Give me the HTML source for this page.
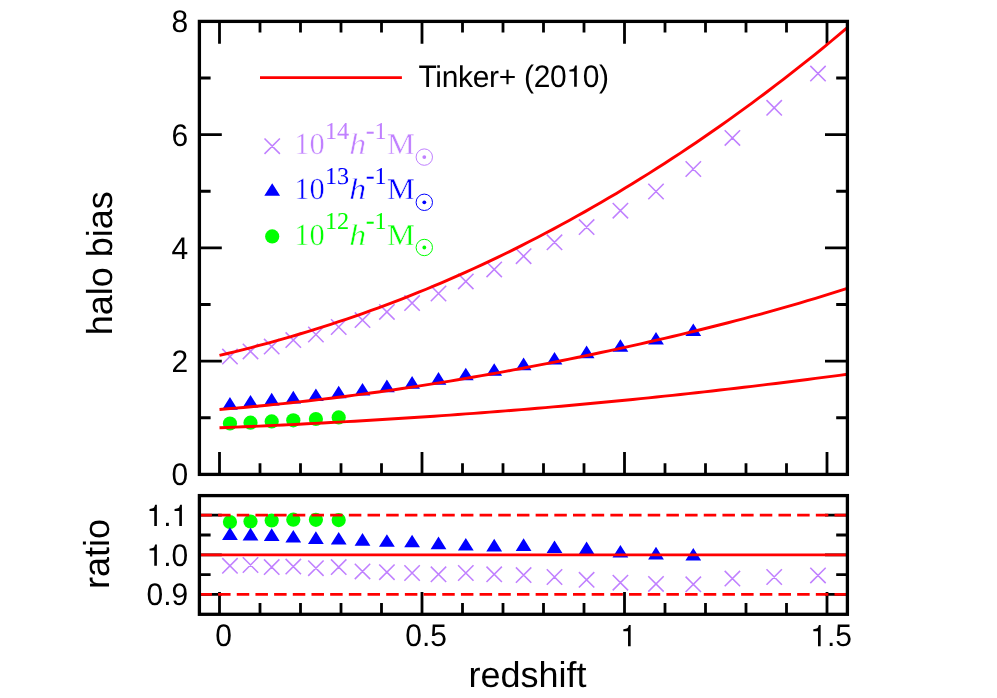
<!DOCTYPE html>
<html><head><meta charset="utf-8"><title>halo bias</title>
<style>html,body{margin:0;padding:0;background:#fff;}svg{display:block;will-change:transform;}text{text-rendering:geometricPrecision;}</style></head>
<body>
<svg width="997" height="698" viewBox="0 0 997 698">
<rect x="0" y="0" width="997" height="698" fill="#ffffff"/>
<path d="M219.50 474.4v-22.4M219.50 21.4v22.4M219.50 614.3v-22.4M260.00 474.4v-11.2M260.00 21.4v11.2M260.00 614.3v-11.2M300.50 474.4v-11.2M300.50 21.4v11.2M300.50 614.3v-11.2M341.00 474.4v-11.2M341.00 21.4v11.2M341.00 614.3v-11.2M381.50 474.4v-11.2M381.50 21.4v11.2M381.50 614.3v-11.2M422.00 474.4v-22.4M422.00 21.4v22.4M422.00 614.3v-22.4M462.50 474.4v-11.2M462.50 21.4v11.2M462.50 614.3v-11.2M503.00 474.4v-11.2M503.00 21.4v11.2M503.00 614.3v-11.2M543.50 474.4v-11.2M543.50 21.4v11.2M543.50 614.3v-11.2M584.00 474.4v-11.2M584.00 21.4v11.2M584.00 614.3v-11.2M624.50 474.4v-22.4M624.50 21.4v22.4M624.50 614.3v-22.4M665.00 474.4v-11.2M665.00 21.4v11.2M665.00 614.3v-11.2M705.50 474.4v-11.2M705.50 21.4v11.2M705.50 614.3v-11.2M746.00 474.4v-11.2M746.00 21.4v11.2M746.00 614.3v-11.2M786.50 474.4v-11.2M786.50 21.4v11.2M786.50 614.3v-11.2M827.00 474.4v-22.4M827.00 21.4v22.4M827.00 614.3v-22.4M199.4 417.77h11.2M847.4 417.77h-11.2M199.4 361.15h22.4M847.4 361.15h-22.4M199.4 304.52h11.2M847.4 304.52h-11.2M199.4 247.90h22.4M847.4 247.90h-22.4M199.4 191.27h11.2M847.4 191.27h-11.2M199.4 134.65h22.4M847.4 134.65h-22.4M199.4 78.02h11.2M847.4 78.02h-11.2M199.4 594.40h22.4M847.4 594.40h-22.4M199.4 574.60h11.2M847.4 574.60h-11.2M199.4 554.80h22.4M847.4 554.80h-22.4M199.4 535.00h11.2M847.4 535.00h-11.2M199.4 515.20h22.4M847.4 515.20h-22.4" stroke="#000" stroke-width="2.8" fill="none"/>
<path d="M222.25 348.90L237.65 364.30M222.25 364.30L237.65 348.90M242.80 343.70L258.20 359.10M242.80 359.10L258.20 343.70M264.00 338.90L279.40 354.30M264.00 354.30L279.40 338.90M285.60 332.40L301.00 347.80M285.60 347.80L301.00 332.40M308.20 326.80L323.60 342.20M308.20 342.20L323.60 326.80M331.00 319.30L346.40 334.70M331.00 334.70L346.40 319.30M354.80 312.40L370.20 327.80M354.80 327.80L370.20 312.40M379.20 304.20L394.60 319.60M379.20 319.60L394.60 304.20M404.40 295.40L419.80 310.80M404.40 310.80L419.80 295.40M430.80 285.80L446.20 301.20M430.80 301.20L446.20 285.80M458.10 273.70L473.50 289.10M458.10 289.10L473.50 273.70M486.50 261.70L501.90 277.10M486.50 277.10L501.90 261.70M515.90 248.50L531.30 263.90M515.90 263.90L531.30 248.50M546.80 234.60L562.20 250.00M546.80 250.00L562.20 234.60M578.90 219.40L594.30 234.80M578.90 234.80L594.30 219.40M612.70 203.00L628.10 218.40M612.70 218.40L628.10 203.00M648.30 183.80L663.70 199.20M648.30 199.20L663.70 183.80M685.60 161.30L701.00 176.70M685.60 176.70L701.00 161.30M724.70 130.20L740.10 145.60M724.70 145.60L740.10 130.20M766.50 100.10L781.90 115.50M766.50 115.50L781.90 100.10M810.30 65.90L825.70 81.30M810.30 81.30L825.70 65.90M222.25 558.10L237.65 573.50M222.25 573.50L237.65 558.10M242.80 557.30L258.20 572.70M242.80 572.70L258.20 557.30M264.00 559.40L279.40 574.80M264.00 574.80L279.40 559.40M285.60 558.90L301.00 574.30M285.60 574.30L301.00 558.90M308.20 560.50L323.60 575.90M308.20 575.90L323.60 560.50M331.00 559.40L346.40 574.80M331.00 574.80L346.40 559.40M354.80 563.70L370.20 579.10M354.80 579.10L370.20 563.70M379.20 564.50L394.60 579.90M379.20 579.90L394.60 564.50M404.40 565.30L419.80 580.70M404.40 580.70L419.80 565.30M430.80 566.60L446.20 582.00M430.80 582.00L446.20 566.60M458.10 565.30L473.50 580.70M458.10 580.70L473.50 565.30M486.50 566.60L501.90 582.00M486.50 582.00L501.90 566.60M515.90 567.40L531.30 582.80M515.90 582.80L531.30 567.40M546.80 569.30L562.20 584.70M546.80 584.70L562.20 569.30M578.90 572.10L594.30 587.50M578.90 587.50L594.30 572.10M612.70 575.00L628.10 590.40M612.70 590.40L628.10 575.00M648.30 576.20L663.70 591.60M648.30 591.60L663.70 576.20M685.60 576.60L701.00 592.00M685.60 592.00L701.00 576.60M724.70 570.90L740.10 586.30M724.70 586.30L740.10 570.90M766.50 569.30L781.90 584.70M766.50 584.70L781.90 569.30M810.30 567.70L825.70 583.10M810.30 583.10L825.70 567.70M264.50 138.50L279.90 153.90M264.50 153.90L279.90 138.50" stroke="#c080ff" stroke-width="1.55" fill="none"/>
<g fill="#00ff00"><circle cx="229.95" cy="423.50" r="7.1"/><circle cx="250.50" cy="422.70" r="7.1"/><circle cx="271.70" cy="421.40" r="7.1"/><circle cx="293.30" cy="420.30" r="7.1"/><circle cx="315.90" cy="419.00" r="7.1"/><circle cx="338.70" cy="417.45" r="7.1"/><circle cx="229.95" cy="522.00" r="7.1"/><circle cx="250.50" cy="521.50" r="7.1"/><circle cx="271.70" cy="520.50" r="7.1"/><circle cx="293.30" cy="519.65" r="7.1"/><circle cx="315.90" cy="519.80" r="7.1"/><circle cx="338.70" cy="520.10" r="7.1"/><circle cx="272.20" cy="236.40" r="7.1"/></g>
<path d="M229.95 397.12L222.05 409.68L237.85 409.68ZM250.50 394.92L242.60 407.48L258.40 407.48ZM271.70 392.82L263.80 405.38L279.60 405.38ZM293.30 390.82L285.40 403.38L301.20 403.38ZM315.90 388.52L308.00 401.07L323.80 401.07ZM338.70 385.67L330.80 398.23L346.60 398.23ZM362.50 382.92L354.60 395.48L370.40 395.48ZM386.90 379.62L379.00 392.18L394.80 392.18ZM412.10 376.12L404.20 388.68L420.00 388.68ZM438.50 372.12L430.60 384.68L446.40 384.68ZM465.80 367.72L457.90 380.27L473.70 380.27ZM494.20 363.22L486.30 375.77L502.10 375.77ZM523.60 357.62L515.70 370.18L531.50 370.18ZM554.50 352.02L546.60 364.57L562.40 364.57ZM586.60 345.62L578.70 358.18L594.50 358.18ZM620.40 339.22L612.50 351.77L628.30 351.77ZM656.00 332.02L648.10 344.57L663.90 344.57ZM693.30 323.52L685.40 336.07L701.20 336.07ZM229.95 527.32L222.05 539.88L237.85 539.88ZM250.50 527.82L242.60 540.38L258.40 540.38ZM271.70 528.32L263.80 540.88L279.60 540.88ZM293.30 530.02L285.40 542.58L301.20 542.58ZM315.90 531.32L308.00 543.88L323.80 543.88ZM338.70 532.02L330.80 544.58L346.60 544.58ZM362.50 533.12L354.60 545.67L370.40 545.67ZM386.90 534.22L379.00 546.77L394.80 546.77ZM412.10 534.72L404.20 547.27L420.00 547.27ZM438.50 536.62L430.60 549.17L446.40 549.17ZM465.80 537.92L457.90 550.48L473.70 550.48ZM494.20 538.82L486.30 551.38L502.10 551.38ZM523.60 538.32L515.70 550.88L531.50 550.88ZM554.50 540.42L546.60 552.98L562.40 552.98ZM586.60 541.62L578.70 554.17L594.50 554.17ZM620.40 544.92L612.50 557.48L628.30 557.48ZM656.00 546.82L648.10 559.38L663.90 559.38ZM693.30 548.02L685.40 560.58L701.20 560.58ZM272.20 183.22L264.30 195.78L280.10 195.78Z" fill="#0000ff"/>
<polyline points="219.50,355.40 227.45,353.52 235.39,351.58 243.34,349.59 251.28,347.55 259.23,345.47 267.18,343.33 275.12,341.14 283.07,338.90 291.02,336.61 298.96,334.26 306.91,331.86 314.85,329.41 322.80,326.90 330.75,324.34 338.69,321.73 346.64,319.06 354.59,316.33 362.53,313.55 370.48,310.71 378.42,307.81 386.37,304.86 394.32,301.85 402.26,298.78 410.21,295.66 418.16,292.47 426.10,289.23 434.05,285.92 441.99,282.56 449.94,279.14 457.89,275.66 465.83,272.11 473.78,268.51 481.72,264.85 489.67,261.12 497.62,257.34 505.56,253.49 513.51,249.58 521.46,245.61 529.40,241.58 537.35,237.49 545.29,233.33 553.24,229.12 561.19,224.84 569.13,220.49 577.08,216.09 585.03,211.62 592.97,207.09 600.92,202.50 608.86,197.84 616.81,193.13 624.76,188.34 632.70,183.50 640.65,178.59 648.59,173.62 656.54,168.58 664.49,163.48 672.43,158.32 680.38,153.09 688.33,147.80 696.27,142.44 704.22,137.02 712.16,131.53 720.11,125.98 728.06,120.36 736.00,114.67 743.95,108.92 751.90,103.10 759.84,97.21 767.79,91.25 775.73,85.22 783.68,79.12 791.63,72.96 799.57,66.71 807.52,60.40 815.47,54.01 823.41,47.54 831.36,41.00 839.30,34.38 847.25,27.68" stroke="#ff0000" stroke-width="2.9" fill="none" stroke-linejoin="round"/>
<polyline points="219.50,409.47 227.45,408.82 235.39,408.16 243.34,407.46 251.28,406.74 259.23,406.00 267.18,405.23 275.12,404.43 283.07,403.62 291.02,402.77 298.96,401.91 306.91,401.02 314.85,400.10 322.80,399.17 330.75,398.20 338.69,397.22 346.64,396.21 354.59,395.18 362.53,394.13 370.48,393.05 378.42,391.95 386.37,390.83 394.32,389.69 402.26,388.52 410.21,387.33 418.16,386.12 426.10,384.89 434.05,383.63 441.99,382.36 449.94,381.06 457.89,379.75 465.83,378.41 473.78,377.05 481.72,375.67 489.67,374.27 497.62,372.84 505.56,371.40 513.51,369.94 521.46,368.46 529.40,366.95 537.35,365.43 545.29,363.89 553.24,362.33 561.19,360.74 569.13,359.14 577.08,357.52 585.03,355.88 592.97,354.22 600.92,352.53 608.86,350.83 616.81,349.11 624.76,347.37 632.70,345.61 640.65,343.82 648.59,342.02 656.54,340.19 664.49,338.34 672.43,336.48 680.38,334.58 688.33,332.67 696.27,330.73 704.22,328.77 712.16,326.78 720.11,324.77 728.06,322.73 736.00,320.67 743.95,318.58 751.90,316.45 759.84,314.30 767.79,312.12 775.73,309.91 783.68,307.66 791.63,305.37 799.57,303.05 807.52,300.70 815.47,298.30 823.41,295.86 831.36,293.38 839.30,290.85 847.25,288.27" stroke="#ff0000" stroke-width="2.9" fill="none" stroke-linejoin="round"/>
<polyline points="219.50,427.81 227.45,427.49 235.39,427.16 243.34,426.82 251.28,426.47 259.23,426.11 267.18,425.75 275.12,425.38 283.07,425.00 291.02,424.61 298.96,424.22 306.91,423.81 314.85,423.40 322.80,422.98 330.75,422.55 338.69,422.12 346.64,421.67 354.59,421.22 362.53,420.76 370.48,420.28 378.42,419.80 386.37,419.31 394.32,418.82 402.26,418.31 410.21,417.79 418.16,417.27 426.10,416.73 434.05,416.19 441.99,415.64 449.94,415.08 457.89,414.50 465.83,413.92 473.78,413.33 481.72,412.73 489.67,412.12 497.62,411.50 505.56,410.87 513.51,410.24 521.46,409.59 529.40,408.93 537.35,408.26 545.29,407.58 553.24,406.89 561.19,406.19 569.13,405.48 577.08,404.76 585.03,404.03 592.97,403.29 600.92,402.54 608.86,401.78 616.81,401.01 624.76,400.23 632.70,399.44 640.65,398.64 648.59,397.83 656.54,397.00 664.49,396.17 672.43,395.33 680.38,394.48 688.33,393.61 696.27,392.74 704.22,391.85 712.16,390.96 720.11,390.06 728.06,389.14 736.00,388.22 743.95,387.28 751.90,386.34 759.84,385.38 767.79,384.42 775.73,383.44 783.68,382.46 791.63,381.47 799.57,380.47 807.52,379.45 815.47,378.43 823.41,377.40 831.36,376.37 839.30,375.32 847.25,374.26" stroke="#ff0000" stroke-width="2.9" fill="none" stroke-linejoin="round"/>
<path d="M199.4 554.80H847.4" stroke="#ff0000" stroke-width="2.75"/>
<path d="M199.4 515.20H847.4M199.4 594.40H847.4" stroke="#ff0000" stroke-width="2.75" stroke-dasharray="12.5 6.18"/>
<path d="M260 77.7H401.9" stroke="#ff0000" stroke-width="2.75"/>
<rect x="199.4" y="21.4" width="648.00" height="453.00" fill="none" stroke="#000" stroke-width="3.3"/>
<rect x="199.4" y="495.6" width="648.00" height="118.70" fill="none" stroke="#000" stroke-width="3.3"/>
<g font-family="Liberation Sans, sans-serif" fill="#000">
<text transform="matrix(1 0 0 1.04 0 -19.412)" x="171.51" y="485.30" font-size="30">0</text>
<text transform="matrix(1 0 0 1.04 0 -14.882)" x="171.51" y="372.05" font-size="30">2</text>
<text transform="matrix(1 0 0 1.04 0 -10.352)" x="171.51" y="258.80" font-size="30">4</text>
<text transform="matrix(1 0 0 1.04 0 -5.822)" x="171.51" y="145.55" font-size="30">6</text>
<text transform="matrix(1 0 0 1.04 0 -1.292)" x="171.51" y="32.30" font-size="30">8</text>
<text transform="matrix(1 0 0 1.04 0 -24.212)" x="146.48 171.51" y="605.30" font-size="30">09</text><text x="163.17" y="605.30" font-size="30">.</text>
<text transform="matrix(1 0 0 1.04 0 -22.628)" x="171.51" y="565.70" font-size="30">0</text><text x="163.17" y="565.70" font-size="30">.</text><path d="M154.25 565.70L154.25 550.55L149.54 550.55L149.54 548.66C153.62 548.15 154.19 547.70 155.12 544.43L156.89 544.43L156.89 565.70Z"/>
<text x="163.17" y="526.10" font-size="30">.</text><path d="M154.25 526.10L154.25 510.95L149.54 510.95L149.54 509.06C153.62 508.55 154.19 508.10 155.12 504.83L156.89 504.83L156.89 526.10ZM179.28 526.10L179.28 510.95L174.57 510.95L174.57 509.06C178.65 508.55 179.22 508.10 180.15 504.83L181.92 504.83L181.92 526.10Z"/>
<text transform="matrix(1 0 0 1.04 0 -25.852)" x="215.26" y="646.30" font-size="30">0</text>
<text transform="matrix(1 0 0 1.04 0 -25.852)" x="405.24 430.27" y="646.30" font-size="30">05</text><text x="421.93" y="646.30" font-size="30">.</text>
<path d="M628.03 646.30L628.03 631.15L623.32 631.15L623.32 629.26C627.40 628.75 627.97 628.30 628.90 625.03L630.67 625.03L630.67 646.30Z"/>
<text transform="matrix(1 0 0 1.04 0 -25.852)" x="835.27" y="646.30" font-size="30">5</text><text x="826.93" y="646.30" font-size="30">.</text><path d="M818.01 646.30L818.01 631.15L813.30 631.15L813.30 629.26C817.38 628.75 817.95 628.30 818.88 625.03L820.65 625.03L820.65 646.30Z"/>
<text transform="matrix(1 0 0 1.04 0 -3.468)" x="418.40 524.01 533.77 550.07 582.67 598.97" y="86.70" font-size="30">T(200)</text><text x="435.21 441.73 458.03 472.68 488.98 498.75" y="86.70" font-size="30">inker+</text><path d="M574.14 86.70L574.14 71.55L569.43 71.55L569.43 69.66C573.51 69.15 574.08 68.70 575.01 65.43L576.78 65.43L576.78 86.70Z"/>
</g>
<g font-family="Liberation Sans, sans-serif" font-size="36" fill="#000">
<text x="527.6" y="687.0" text-anchor="middle">redshift</text>
<text transform="translate(112.2 263.2) rotate(-90)" text-anchor="middle">halo bias</text>
<text transform="translate(109.3 553.9) rotate(-90)" text-anchor="middle">ratio</text>
</g>
<g font-family="Liberation Serif, serif" fill="#c080ff"><g stroke="#fff" stroke-width="0.45"><text x="294.3" y="154.1" font-size="30.5">10</text><text transform="translate(349.2 154.1) scale(1.13 1)" font-size="30" font-style="italic">h</text><text transform="translate(387.0 154.1) scale(1.04 1)" font-size="30">M</text></g><text transform="translate(325.0 138.90) scale(1 1)" font-size="24.2">14</text><text transform="translate(365.8 138.90) scale(1.1 1.1)" font-size="24.2">-</text><text transform="translate(374.6 138.90) scale(1 1)" font-size="24.2">1</text></g><circle cx="424.3" cy="157.10" r="8.2" fill="none" stroke="#c080ff" stroke-width="1.0"/><circle cx="424.3" cy="157.10" r="1.9" fill="#c080ff"/>
<g font-family="Liberation Serif, serif" fill="#0000ff"><g stroke="#fff" stroke-width="0.45"><text x="294.3" y="199.3" font-size="30.5">10</text><text transform="translate(349.2 199.3) scale(1.13 1)" font-size="30" font-style="italic">h</text><text transform="translate(387.0 199.3) scale(1.04 1)" font-size="30">M</text></g><text transform="translate(325.0 184.10) scale(1 1)" font-size="24.2">13</text><text transform="translate(365.8 184.10) scale(1.1 1.1)" font-size="24.2">-</text><text transform="translate(374.6 184.10) scale(1 1)" font-size="24.2">1</text></g><circle cx="424.3" cy="202.30" r="8.2" fill="none" stroke="#0000ff" stroke-width="1.0"/><circle cx="424.3" cy="202.30" r="1.9" fill="#0000ff"/>
<g font-family="Liberation Serif, serif" fill="#00ff00"><g stroke="#fff" stroke-width="0.45"><text x="294.3" y="244.5" font-size="30.5">10</text><text transform="translate(349.2 244.5) scale(1.13 1)" font-size="30" font-style="italic">h</text><text transform="translate(387.0 244.5) scale(1.04 1)" font-size="30">M</text></g><text transform="translate(325.0 229.30) scale(1 1)" font-size="24.2">12</text><text transform="translate(365.8 229.30) scale(1.1 1.1)" font-size="24.2">-</text><text transform="translate(374.6 229.30) scale(1 1)" font-size="24.2">1</text></g><circle cx="424.3" cy="247.50" r="8.2" fill="none" stroke="#00ff00" stroke-width="1.0"/><circle cx="424.3" cy="247.50" r="1.9" fill="#00ff00"/>
</svg>
</body></html>
